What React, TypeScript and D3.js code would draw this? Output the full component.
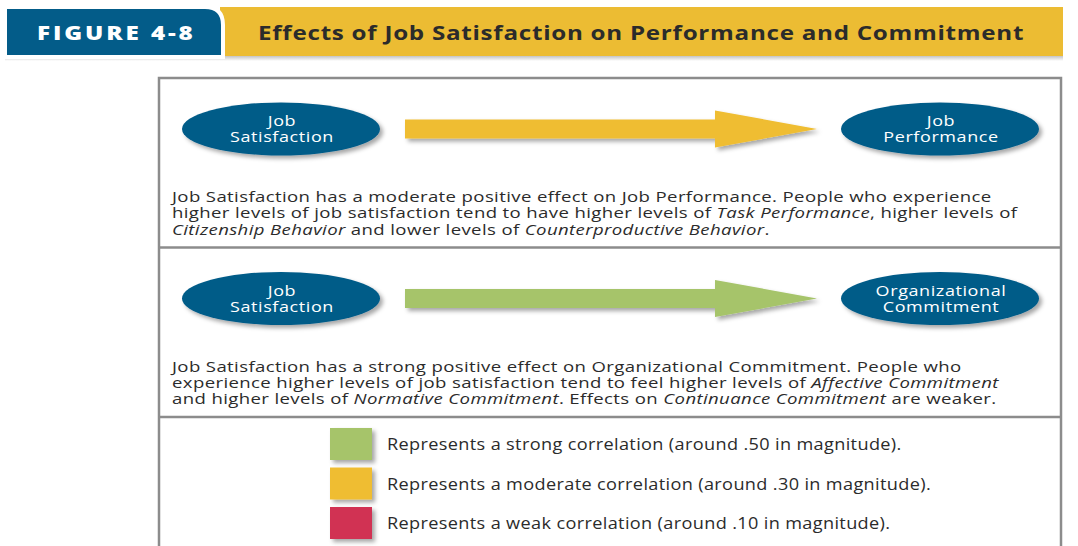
import React from 'react';
import * as d3 from 'd3';

// figure content
const figureLabel = 'FIGURE 4-8';
const figureTitle = 'Effects of Job Satisfaction on Performance and Commitment';

const panelKeys = ['performance', 'commitment'];
const sourceLabels = [['Job', 'Satisfaction'], ['Job', 'Satisfaction']];
const targetLabels = [['Job', 'Performance'], ['Organizational', 'Commitment']];
const panelStrength = ['moderate', 'strong'];

type Seg = [string, boolean];
const performanceText: Seg[][] = [
  [['Job Satisfaction has a moderate positive effect on Job Performance. People who experience', false]],
  [['higher levels of job satisfaction tend to have higher levels of ', false], ['Task Performance', true], [', higher levels of', false]],
  [['Citizenship Behavior', true], [' and lower levels of ', false], ['Counterproductive Behavior', true], ['.', false]],
];
const commitmentText: Seg[][] = [
  [['Job Satisfaction has a strong positive effect on Organizational Commitment. People who', false]],
  [['experience higher levels of job satisfaction tend to feel higher levels of ', false], ['Affective Commitment', true]],
  [['and higher levels of ', false], ['Normative Commitment', true], ['. Effects on ', false], ['Continuance Commitment', true], [' are weaker.', false]],
];
const panelText = [performanceText, commitmentText];

const strengthKeys = ['strong', 'moderate', 'weak'];
const strengthMagnitude = ['.50', '.30', '.10'];
const strengthColors = ['#a6c46b', '#efbd31', '#d13152'];

const W = 1078;
const H = 546;
const FONT = '"Open Sans", "Noto Sans", sans-serif';
// the source typeface is wider than Open Sans, so text is stretched horizontally
const SX_BODY = 1.24;
const SX_LEGEND = 1.17;
const SX_TITLE = 1.21;
const SX_NODE = 1.2;

const App: React.FC = () => {
  const box = { left: 159, right: 1061, top: 78, bottom: 560 };

  const panelY = d3.scaleBand<string>().domain(panelKeys).range([box.top, 417]);
  const nodeX = d3.scalePoint<string>().domain(['source', 'target']).range([281, 940]);
  const color = d3.scaleOrdinal<string, string>().domain(strengthKeys).range(strengthColors);
  const legendY = d3.scalePoint<string>().domain(strengthKeys).range([444, 523]);

  const rx = 99;
  const ry = 26.5;
  const shaftX0 = 405;
  const headX0 = 715;
  const tipX = 817;
  const shaftHalf = 9.5;
  const headHalf = 18.5;

  const arrowPath = (cy: number) => {
    const p = d3.path();
    p.moveTo(shaftX0, cy - shaftHalf);
    p.lineTo(headX0, cy - shaftHalf);
    p.lineTo(headX0, cy - headHalf);
    p.lineTo(tipX, cy);
    p.lineTo(headX0, cy + headHalf);
    p.lineTo(headX0, cy + shaftHalf);
    p.lineTo(shaftX0, cy + shaftHalf);
    p.closePath();
    return p.toString();
  };

  // header tab with rounded top-right corner
  const tab = d3.path();
  tab.moveTo(5, 57);
  tab.lineTo(5, 7);
  tab.lineTo(205, 7);
  tab.quadraticCurveTo(223, 7, 223, 25);
  tab.lineTo(223, 57);
  tab.closePath();

  return (
    <svg width={W} height={H} style={{ position: 'absolute', left: 0, top: 0, background: '#fff' }}>
      <defs>
        <filter id="shadow" x="-20%" y="-30%" width="150%" height="180%">
          <feDropShadow dx="3" dy="3" stdDeviation="2" floodColor="#000" floodOpacity="0.35" />
        </filter>
        <linearGradient id="hdrShadow" x1="0" y1="0" x2="0" y2="1">
          <stop offset="0" stopColor="#c4c4c4" />
          <stop offset="1" stopColor="#ffffff" />
        </linearGradient>
      </defs>

      {/* header */}
      <rect x={5} y={56} width={1058} height={5} fill="url(#hdrShadow)" />
      <rect x={220} y={7} width={843} height={49} fill="#ecbc33" />
      <path d={tab.toString()} fill="#035c89" stroke="#fff" strokeWidth={4} />
      <text transform={`translate(37,40) scale(${SX_TITLE},1)`} fill="#fff" fontFamily={FONT}
        fontWeight={800} fontSize={20} letterSpacing={2.4}>
        {figureLabel}
      </text>
      <text transform={`translate(258,40) scale(${SX_TITLE},1)`} fill="#2b2b2b" fontFamily={FONT}
        fontWeight={700} fontSize={20} letterSpacing={0.6}>
        {figureTitle}
      </text>

      {/* frame */}
      <rect x={box.left} y={box.top} width={box.right - box.left} height={box.bottom - box.top}
        fill="none" stroke="#8c8c8c" strokeWidth={2.5} />
      {[...panelKeys.slice(1).map((k) => panelY(k)!), 417].map((y, i) => (
        <line key={i} x1={box.left} x2={box.right} y1={y} y2={y} stroke="#8c8c8c" strokeWidth={2.5} />
      ))}

      {/* panels */}
      {panelKeys.map((k, i) => {
        const top = panelY(k)!;
        const cy = top + 51;
        return (
          <g key={k}>
            <path d={arrowPath(cy)} fill={color(panelStrength[i])} filter="url(#shadow)" />
            {[sourceLabels[i], targetLabels[i]].map((lbl, j) => {
              const cx = nodeX(j === 0 ? 'source' : 'target')!;
              return (
                <g key={j}>
                  <ellipse cx={cx} cy={cy} rx={rx} ry={ry} fill="#005b88" filter="url(#shadow)" />
                  <text transform={`translate(${cx + 1},${cy - 3}) scale(${SX_NODE},1)`}
                    textAnchor="middle" fill="#fff" fontFamily={FONT} fontSize={15} letterSpacing={0.5}>
                    {lbl.map((t, li) => (
                      <tspan key={li} x={0} dy={li === 0 ? 0 : 16}>{t}</tspan>
                    ))}
                  </text>
                </g>
              );
            })}
            <text transform={`translate(172,${top + 124}) scale(${SX_BODY},1)`}
              fill="#2b2b2b" fontFamily={FONT} fontSize={15} letterSpacing={0.3}
              style={{ whiteSpace: 'pre' }}>
              {panelText[i].map((line, li) =>
                line.map(([s, it], si) => (
                  <tspan key={`${li}-${si}`} x={si === 0 ? 0 : undefined}
                    dy={si === 0 && li > 0 ? 16.5 : undefined}
                    fontStyle={it ? 'italic' : 'normal'}>{s}</tspan>
                ))
              )}
            </text>
          </g>
        );
      })}

      {/* legend */}
      {strengthKeys.map((k, i) => {
        const cy = legendY(k)!;
        return (
          <g key={k}>
            <rect x={330} y={cy - 16} width={42} height={32} fill={color(k)} filter="url(#shadow)" />
            <text transform={`translate(387,${cy + 6}) scale(${SX_LEGEND},1)`} fill="#2b2b2b"
              fontFamily={FONT} fontSize={15.5} letterSpacing={0.3}>
              {`Represents a ${k} correlation (around ${strengthMagnitude[i]} in magnitude).`}
            </text>
          </g>
        );
      })}
    </svg>
  );
};

export default App;
